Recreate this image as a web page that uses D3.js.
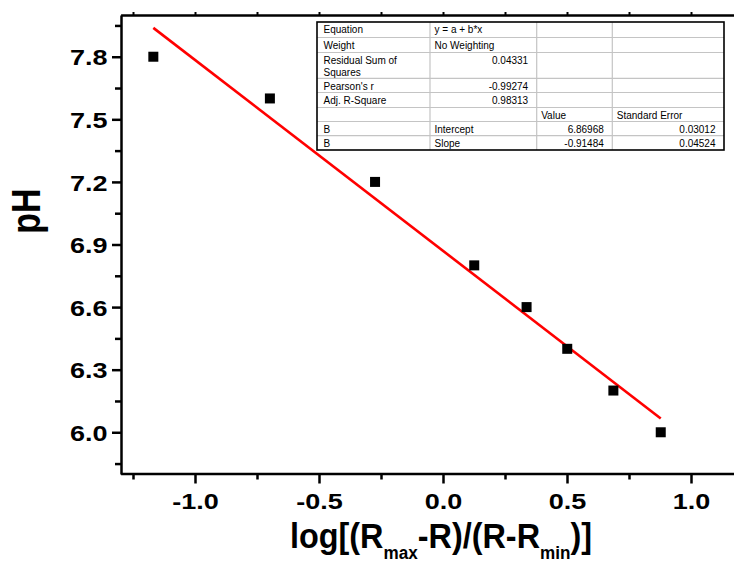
<!DOCTYPE html>
<html>
<head>
<meta charset="utf-8">
<script src="https://cdn.jsdelivr.net/npm/d3@7"></script>
<style>
  html, body { margin: 0; padding: 0; background: #fff; }
  svg { display: block; }
</style>
</head>
<body>
<div id="chart"></div>
<script>
// messwerte
const logRatio = [-1.168, -0.698, -0.274, 0.126, 0.337, 0.501, 0.687, 0.878];
const pHValues = [7.8, 7.6, 7.2, 6.8, 6.6, 6.4, 6.2, 6.0];

// fit y = a + b*x
const intercept = 6.86968;
const slope = -0.91484;

const xTicks = [-1.0, -0.5, 0.0, 0.5, 1.0];
const xMinor = [-1.25, -0.75, -0.25, 0.25, 0.75];
const yTicks = [6.0, 6.3, 6.6, 6.9, 7.2, 7.5, 7.8];
const yMinor = [5.85, 6.15, 6.45, 6.75, 7.05, 7.35, 7.65, 7.95];

// tabelle (Origin fit report)
const tableRows = [
  ["Equation", "y = a + b*x", "", ""],
  ["Weight", "No Weighting", "", ""],
  ["Residual Sum of\nSquares", "0.04331", "", ""],
  ["Pearson's r", "-0.99274", "", ""],
  ["Adj. R-Square", "0.98313", "", ""],
  ["", "", "Value", "Standard Error"],
  ["B", "Intercept", "6.86968", "0.03012"],
  ["B", "Slope", "-0.91484", "0.04524"]
];

(function () {
  const W = 734, H = 565;
  const svg = d3.select("#chart").append("svg")
    .attr("width", W).attr("height", H);

  const x = d3.scaleLinear().domain([-1.3, 1.2]).range([120.6, 740.6]);
  const y = d3.scaleLinear().domain([5.8, 8.0]).range([474, 15]);
  const font = "'Liberation Sans', Arial, sans-serif";
  const stretch = 1.2;

  // minor ticks
  svg.append("g").attr("transform", "translate(0,473.5)")
    .call(d3.axisBottom(x).tickValues(xMinor).tickSize(6).tickFormat("").tickSizeOuter(0))
    .call(g => g.select(".domain").remove())
    .selectAll("line").attr("stroke-width", 2.5);
  svg.append("g").attr("transform", "translate(121,0)")
    .call(d3.axisLeft(y).tickValues(yMinor).tickSize(6).tickFormat("").tickSizeOuter(0))
    .call(g => g.select(".domain").remove())
    .selectAll("line").attr("stroke-width", 2.5);

  // top axis, kurze ticks nach aussen
  svg.append("g").attr("transform", "translate(0,15)")
    .call(d3.axisTop(x).tickValues(xTicks.concat(xMinor)).tickSize(3).tickFormat("").tickSizeOuter(0))
    .call(g => g.select(".domain").attr("stroke-width", 2.5))
    .selectAll("line").attr("stroke-width", 2);

  // x axis
  const gx = svg.append("g").attr("transform", "translate(0,473.5)")
    .call(d3.axisBottom(x).tickValues(xTicks).tickSize(10).tickSizeOuter(0)
      .tickFormat(d3.format(".1f")));
  gx.select(".domain").attr("stroke-width", 2.5);
  gx.selectAll("line").attr("stroke-width", 2.5);
  gx.selectAll("text")
    .attr("y", 19.5)
    .attr("font-family", font).attr("font-weight", "bold").attr("font-size", 22.5)
    .attr("fill", "#000")
    .attr("transform", `scale(${stretch},1)`)
    .text(d => d3.format(".1f")(d).replace("−", "-"));

  // y axis
  const gy = svg.append("g").attr("transform", "translate(121,0)")
    .call(d3.axisLeft(y).tickValues(yTicks).tickSize(9).tickSizeOuter(0)
      .tickFormat(d3.format(".1f")));
  gy.select(".domain").attr("stroke-width", 2.5);
  gy.selectAll("line").attr("stroke-width", 2.5);
  gy.selectAll("text")
    .attr("x", -13.5 / stretch)
    .attr("dy", "0.36em")
    .attr("font-family", font).attr("font-weight", "bold").attr("font-size", 22.5)
    .attr("fill", "#000")
    .attr("transform", `scale(${stretch},1)`);

  // achsentitel
  svg.append("text")
    .attr("transform", "translate(40,211) rotate(-90) scale(1,1.2)")
    .attr("text-anchor", "middle")
    .attr("font-family", font).attr("font-weight", "bold").attr("font-size", 34)
    .text("pH");

  const xt = svg.append("text")
    .attr("transform", "translate(441,548) scale(0.9,1)")
    .attr("text-anchor", "middle")
    .attr("font-family", font).attr("font-weight", "bold").attr("font-size", 36);
  const parts = [["log[(R", 0], ["max", 1], ["-R)/(R-R", 0], ["min", 1], [")]", 0]];
  parts.forEach(([s, sub], i) => {
    const ts = xt.append("tspan").text(s);
    if (sub) ts.attr("font-size", 19).attr("dy", 11);
    else if (i > 0) ts.attr("dy", -11);
  });

  // fit line
  const xr = d3.extent(logRatio);
  svg.append("line")
    .attr("x1", x(xr[0])).attr("y1", y(intercept + slope * xr[0]))
    .attr("x2", x(xr[1])).attr("y2", y(intercept + slope * xr[1]))
    .attr("stroke", "#ff0000").attr("stroke-width", 2.6);

  // punkte
  const s = 10;
  svg.append("g").selectAll("rect")
    .data(logRatio.map((v, i) => ({ x: v, y: pHValues[i] })))
    .join("rect")
    .attr("x", d => x(d.x) - s / 2).attr("y", d => y(d.y) - s / 2)
    .attr("width", s).attr("height", s)
    .attr("fill", "#000");

  // tabelle
  const colX = [317, 430, 536.7, 612.3, 724];
  const rowY = [22, 37.5, 52.5, 78.3, 92.5, 107.5, 121.5, 135.7, 150];
  const tbl = svg.append("g").attr("font-family", font).attr("font-size", 10);
  tbl.append("rect").attr("x", colX[0]).attr("y", rowY[0])
    .attr("width", colX[4] - colX[0]).attr("height", rowY[8] - rowY[0])
    .attr("fill", "#fff");
  rowY.slice(1, -1).forEach(ry => {
    tbl.append("line").attr("x1", colX[0]).attr("x2", colX[4])
      .attr("y1", ry).attr("y2", ry).attr("stroke", "#c4c4c4").attr("stroke-width", 1.2);
  });
  colX.slice(1, -1).forEach(cx => {
    tbl.append("line").attr("x1", cx).attr("x2", cx)
      .attr("y1", rowY[0]).attr("y2", rowY[8]).attr("stroke", "#c4c4c4").attr("stroke-width", 1.2);
  });
  tbl.append("rect").attr("x", colX[0]).attr("y", rowY[0])
    .attr("width", colX[4] - colX[0]).attr("height", rowY[8] - rowY[0])
    .attr("fill", "none").attr("stroke", "#000").attr("stroke-width", 1.6);

  const isNum = v => /^-?\d/.test(v);
  tableRows.forEach((row, r) => {
    row.forEach((cell, c) => {
      if (!cell) return;
      const num = isNum(cell);
      const t = tbl.append("text")
        .attr("x", num ? colX[c + 1] - 8.5 : colX[c] + (c === 0 ? 6.5 : 4.5))
        .attr("y", rowY[r] + 11.2)
        .attr("text-anchor", num ? "end" : "start")
        .attr("fill", "#000");
      cell.split("\n").forEach((ln, k) => {
        t.append("tspan").attr("x", t.attr("x")).attr("dy", k ? 12.5 : 0).text(ln);
      });
    });
  });
})();
</script>
</body>
</html>
